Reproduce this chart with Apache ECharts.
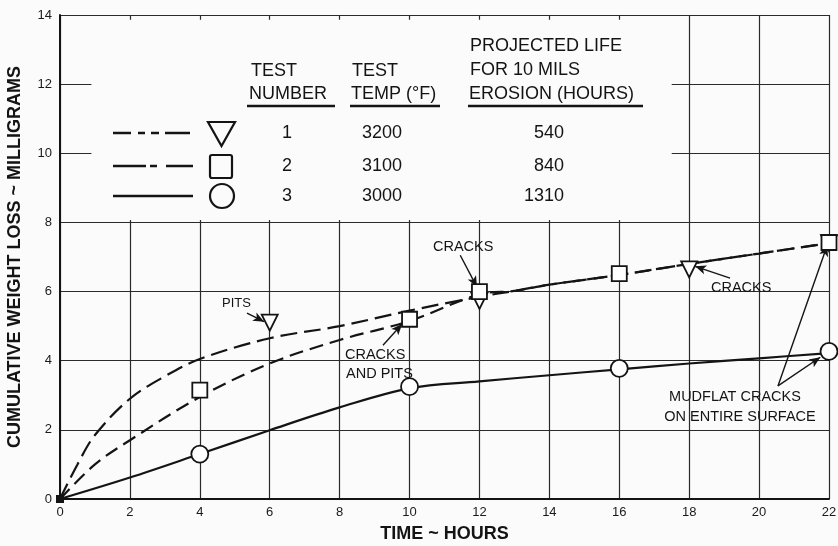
<!DOCTYPE html>
<html><head><meta charset="utf-8">
<script src="https://cdn.jsdelivr.net/npm/echarts@6/dist/echarts.min.js"></script>
<style>html,body{margin:0;padding:0;background:#fbfbfb}#c{width:838px;height:546px}</style>
</head><body><div id="c"></div>
<script>
// ---- data ----
const xAxisTicks = [0, 2, 4, 6, 8, 10, 12, 14, 16, 18, 20, 22];
const yAxisTicks = [0, 2, 4, 6, 8, 10, 12, 14];
// fitted curves [hours, mg]
const curve1 = [[0,0],[0.5,1.0],[1,1.85],[2,2.9],[3,3.55],[4,4.05],[6,4.65],[8,5.0],[10,5.45],[12,5.85],[13,6.02],[14,6.2],[16,6.48],[18,6.8],[20,7.1],[22,7.4]];
const curve2 = [[0,0],[1,1.0],[2,1.7],[4,2.95],[6,3.92],[8,4.6],[10,5.15],[12,5.92],[13,6.02],[14,6.2],[16,6.48],[18,6.8],[20,7.1],[22,7.4]];
const curve3 = [[0,0],[2,0.62],[4,1.3],[6,1.99],[8,2.65],[10,3.2],[12,3.4],[14,3.58],[16,3.75],[18,3.92],[20,4.07],[22,4.22]];
// measured points
const test1Points = [[6,5.1],[12,5.73],[18,6.64],[22,7.4]];
const test2Points = [[4,3.15],[10,5.2],[12,6.0],[16,6.52],[22,7.42]];
const test3Points = [[4,1.3],[10,3.25],[16,3.78],[22,4.27]];
const originPoint = [[0,0]];
// legend table
const tableNumbers = ['1','2','3'];
const tableTemps = ['3200','3100','3000'];
const tableLife = ['540','840','1310'];
// annotation arrows [from, to]
const arrows = [
  [[5.35,5.38],[5.84,5.13]],
  [[11.45,7.05],[11.93,6.13]],
  [[9.24,4.45],[9.79,5.06]],
  [[19.17,6.39],[18.17,6.73]],
  [[20.54,3.27],[21.95,7.34]],
  [[20.54,3.27],[21.75,4.1]]
];

const FONT = 'Liberation Sans, Arial, Helvetica, sans-serif';
const INK = '#141414';
const BG = '#fbfbfb';

const chart = echarts.init(document.getElementById('c'), null, {renderer:'canvas'});

function txt(text, x, y, size, align, weight) {
  return {type:'text', z:100, style:{text:text, x:x, y:y, fontSize:size, fontFamily:FONT,
    fontWeight: weight||'normal', fill:INK, textAlign:align||'left', textVerticalAlign:'middle'}};
}
function hline(x1, x2, y, w, dash) {
  return {type:'line', z:100, shape:{x1:x1, y1:y, x2:x2, y2:y},
    style:{stroke:INK, lineWidth:w, lineDash: dash || null}};
}

const rowY = [133, 166, 196];
const graphics = [
  // table headers
  txt('TEST', 251, 71, 18), txt('NUMBER', 249, 94, 18), hline(247, 335, 106, 2.5),
  txt('TEST', 352, 71, 18), txt('TEMP (°F)', 351, 94, 18), hline(350, 440, 106, 2.5),
  txt('PROJECTED LIFE', 470, 46, 18), txt('FOR 10 MILS', 470, 70, 18), txt('EROSION (HOURS)', 469, 94, 18), hline(468, 643, 106, 2.5),
  // legend line samples
  hline(113, 190, rowY[0], 2.5, [18, 7, 7, 6, 8, 6, 30]),
  hline(113, 193, rowY[1], 2.5, [33, 4, 7, 9, 40]),
  hline(113, 193, rowY[2], 2.5),
  // legend symbols
  {type:'polygon', z:100, shape:{points:[[208,122],[235,122],[221.5,146]]}, style:{fill:'none', stroke:INK, lineWidth:2.2}},
  {type:'rect', z:100, shape:{x:210, y:155, width:22, height:23, r:2}, style:{fill:'none', stroke:INK, lineWidth:2.2}},
  {type:'circle', z:100, shape:{cx:222, cy:196, r:12}, style:{fill:'none', stroke:INK, lineWidth:2.2}},
  // annotations
  txt('PITS', 222, 303, 13),
  txt('CRACKS', 433, 247, 14.5),
  txt('CRACKS', 345, 355, 14.5),
  txt('AND PITS', 346, 374, 14.5),
  txt('CRACKS', 711, 288, 14.5),
  txt('MUDFLAT CRACKS', 735, 397, 14.5, 'center'),
  txt('ON ENTIRE SURFACE', 740, 417, 14.5, 'center')
];
tableNumbers.forEach((t,i)=>graphics.push(txt(t, 287, rowY[i], 18, 'center')));
tableTemps.forEach((t,i)=>graphics.push(txt(t, 362, rowY[i], 18)));
tableLife.forEach((t,i)=>graphics.push(txt(t, 564, rowY[i], 18, 'right')));

const lineSeries = (data, dash, name) => ({
  type:'line', name:name, data:data, smooth:0.35, showSymbol:false, symbol:'none', silent:true,
  lineStyle:{color:INK, width:2.2, type:dash}, z:3
});
const markerSeries = (data, symbol, size, rotate) => ({
  type:'scatter', data:data, symbol:symbol, symbolSize:size, symbolRotate:rotate||0, silent:true,
  itemStyle:{color:'#fff', borderColor:INK, borderWidth:1.8, opacity:1}, z:5
});

const option = {
  backgroundColor: BG,
  animation:false,
  grid:{left:60, right:9, top:15, bottom:47, containLabel:false, outerBoundsMode:'none'},
  xAxis:{
    type:'value', min:0, max:22, interval:2,
    name:'TIME ~ HOURS', nameLocation:'middle', nameGap:26,
    nameTextStyle:{fontFamily:FONT, fontWeight:'bold', fontSize:18, color:INK},
    axisLine:{show:true, lineStyle:{color:INK, width:2}},
    axisTick:{show:false},
    axisLabel:{fontFamily:FONT, fontSize:13, color:'#1a1a1a', margin:7,
      formatter:v => xAxisTicks.includes(v) ? String(v) : ''},
    splitLine:{show:true, lineStyle:{color:'#2a2a2a', width:1.2}}
  },
  yAxis:{
    type:'value', min:0, max:14, interval:2,
    name:'CUMULATIVE WEIGHT LOSS ~ MILLIGRAMS', nameLocation:'middle', nameGap:36,
    nameTextStyle:{fontFamily:FONT, fontWeight:'bold', fontSize:18, color:INK},
    axisLine:{show:true, lineStyle:{color:INK, width:2}},
    axisTick:{show:false},
    axisLabel:{fontFamily:FONT, fontSize:13, color:'#1a1a1a', margin:8,
      formatter:v => yAxisTicks.includes(v) ? String(v) : ''},
    splitLine:{show:true, lineStyle:{color:'#2a2a2a', width:1.2}}
  },
  graphic: graphics,
  series:[
    Object.assign(lineSeries(curve3, 'solid', 'Test 3'), {
      markArea:{silent:true, itemStyle:{color:BG, opacity:1},
        data:[[{coord:[0.9, 8.07]},{coord:[17.5, 13.86]}]]}
    }),
    lineSeries(curve2, [14, 7], 'Test 2'),
    lineSeries(curve1, [17, 7], 'Test 1'),
    markerSeries(test1Points, 'triangle', 16, 180),
    markerSeries(test2Points, 'rect', 15),
    markerSeries(test3Points, 'circle', 17),
    {type:'scatter', data:originPoint, symbol:'rect', symbolSize:8, silent:true,
      itemStyle:{color:INK, opacity:1}, z:6,
      markLine:{silent:true, symbol:['none','arrow'], symbolSize:[7,11],
        label:{show:false}, lineStyle:{color:INK, width:1.4, type:'solid'},
        data: arrows.map(a => [{coord:a[0]},{coord:a[1]}])}
    }
  ]
};
chart.setOption(option);
</script>
</body></html>
